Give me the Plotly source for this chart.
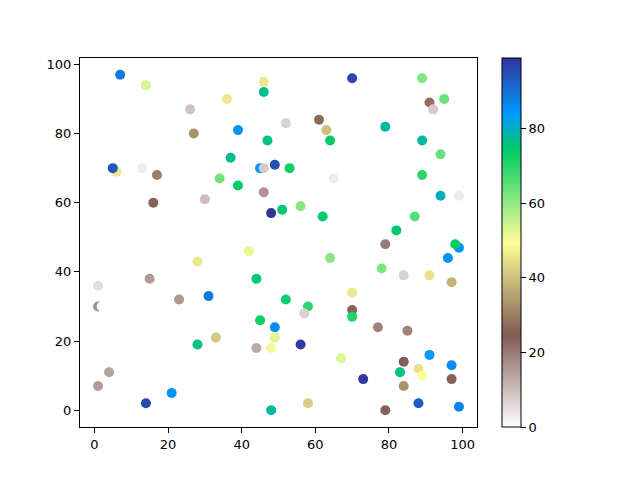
import plotly.graph_objects as go

x_vals = [7, 14, 26, 27, 6, 5, 13, 17, 46, 46, 36, 52, 61, 63, 64, 39, 47, 37, 45, 46,
          49, 53, 34, 65, 70, 89, 91, 92, 95, 79, 89, 94, 89, 16, 30, 28, 15, 1, 23, 31,
          31, 46, 48, 51, 56, 62, 42, 64, 44, 52, 58, 39, 94, 99, 87, 82, 79, 99, 98, 96,
          78, 84, 91, 97, 70, 28, 33, 4, 1, 21, 14, 1, 2, 57, 45, 49, 49, 44, 48, 56,
          67, 58, 48, 70, 70, 77, 85, 91, 97, 84, 83, 88, 89, 73, 84, 97, 88, 79, 99]
y_vals = [97, 94, 87, 80, 69, 70, 70, 68, 95, 92, 90, 83, 84, 81, 78, 81, 78, 73, 70, 70,
          71, 70, 67, 67, 96, 96, 89, 87, 90, 82, 78, 74, 68, 60, 61, 43, 38, 36, 32, 34,
          33, 63, 57, 58, 59, 56, 46, 44, 38, 32, 30, 65, 62, 62, 56, 52, 48, 47, 48, 44,
          41, 39, 39, 37, 34, 19, 21, 11, 7, 5, 2, 30, 30, 28, 26, 24, 21, 18, 18, 19,
          15, 2, 0, 29, 27, 24, 23, 16, 13, 14, 11, 12, 10, 9, 7, 9, 2, 0, 1]
c_vals = [89, 54, 9, 33, 46, 94, 3, 30, 46, 77, 46, 7, 27, 40, 74, 85, 76, 77, 85, 8,
          95, 73, 63, 3, 96, 62, 28, 8, 64, 78, 78, 64, 70, 26, 10, 46, 15, 5, 16, 1,
          89, 16, 99, 75, 61, 75, 52, 61, 75, 73, 70, 74, 80, 3, 66, 75, 20, 85, 74, 85,
          62, 7, 45, 38, 46, 76, 41, 14, 15, 85, 96, 17, 0, 7, 73, 86, 53, 13, 51, 98,
          53, 42, 78, 26, 71, 19, 19, 84, 86, 25, 76, 45, 49, 98, 33, 26, 93, 24, 87]

x_ticks = [0, 20, 40, 60, 80, 100]
y_ticks = [0, 20, 40, 60, 80, 100]
cbar_ticks = [0, 20, 40, 60, 80]

terrain_r = [
    [0.00, "rgb(255,255,255)"],
    [0.25, "rgb(128,92,84)"],
    [0.50, "rgb(255,255,153)"],
    [0.75, "rgb(0,204,102)"],
    [0.85, "rgb(0,153,255)"],
    [1.00, "rgb(51,51,153)"],
]

fig = go.Figure(go.Scatter(
    x=x_vals, y=y_vals, mode="markers",
    marker=dict(
        size=10, color=c_vals, colorscale=terrain_r,
        cmin=min(c_vals), cmax=max(c_vals), line=dict(width=0),
        colorbar=dict(
            xref="paper", x=1.063, xanchor="left", xpad=0,
            y=0.5, yanchor="middle", len=1, lenmode="fraction", ypad=0,
            thickness=19, outlinewidth=1, outlinecolor="black",
            tickvals=cbar_ticks, ticks="outside", ticklen=5, tickwidth=1,
            tickcolor="black",
            tickfont=dict(family="DejaVu Sans", size=13, color="black"),
        ),
    ),
    showlegend=False,
))

axis_common = dict(
    showgrid=False, zeroline=False, showline=True, linecolor="black",
    linewidth=1, mirror=True, ticks="outside", ticklen=5, tickwidth=1,
    tickcolor="black", tickfont=dict(family="DejaVu Sans", size=13, color="black"),
)
fig.update_xaxes(range=[-3.9, 103.9], tickvals=x_ticks, **axis_common)
fig.update_yaxes(range=[-4.85, 101.85], tickvals=y_ticks, **axis_common)

fig.update_layout(
    width=640, height=480,
    margin=dict(l=72, r=171, t=50, b=61),
    plot_bgcolor="white", paper_bgcolor="white",
)

fig.write_html("out.html")
